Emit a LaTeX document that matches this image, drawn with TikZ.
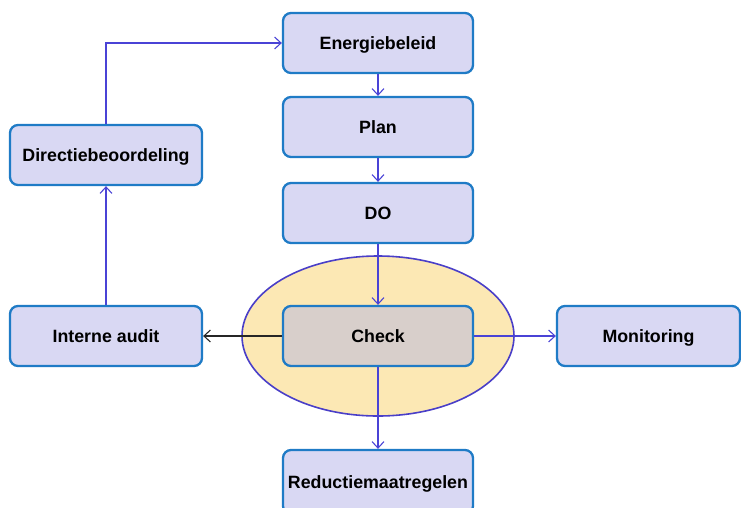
\documentclass[tikz,border=0pt]{standalone}
\usepackage{fontspec}
\setmainfont{Liberation Sans}
\usetikzlibrary{arrows.meta,shapes.geometric}
\definecolor{boxfill}{HTML}{D9D8F3}
\definecolor{boxline}{HTML}{1F7BC6}
\definecolor{checkfill}{HTML}{D8CFCB}
\definecolor{arrowblue}{HTML}{4A43D6}
\definecolor{ellfill}{HTML}{FCE8B4}
\definecolor{ellline}{HTML}{4A3FC8}
\tikzset{
  box/.style={draw=boxline, line width=2.3pt, fill=boxfill, rounded corners=8pt,
    minimum width=190pt, minimum height=60pt, inner sep=0pt,
    text height=12.7pt, text depth=0pt,
    font=\fontsize{17.8}{20}\selectfont\bfseries, text=black},
  conn/.style={draw=arrowblue, line width=1.1pt, -{Straight Barb[length=6.5pt,width=12pt,line width=1.1pt]}},
  connk/.style={draw=black!85, line width=1.1pt, -{Straight Barb[length=6.5pt,width=12pt,line width=1.1pt]}}
}
\begin{document}
\begin{tikzpicture}[x=1pt,y=-1pt]
\useasboundingbox (0,0) rectangle (741,507);
\node[ellipse, draw=ellline, line width=1.6pt, fill=ellfill, minimum width=272pt, minimum height=160pt, inner sep=0pt] (ell) at (378,336) {};
\node[box] (energie) at (378,43) {Energiebeleid};
\node[box] (plan) at (378,127) {Plan};
\node[box] (do) at (378,213) {DO};
\node[box, fill=checkfill] (check) at (378,336) {Check};
\node[box, minimum height=64pt] (red) at (378,482) {Reductiemaatregelen};
\node[box, minimum width=192pt] (dir) at (106,155) {Directiebeoordeling};
\node[box, minimum width=192pt] (audit) at (106,336) {Interne audit};
\node[box, minimum width=183pt] (mon) at (648.5,336) {Monitoring};
\draw[conn] (dir.north) |- (energie.west);
\draw[conn] (energie) -- (plan);
\draw[conn] (plan) -- (do);
\draw[conn] (do) -- (check);
\draw[connk] (check) -- (audit);
\draw[conn] (check) -- (mon);
\draw[conn] (check) -- (red);
\draw[conn] (audit) -- (dir);
\end{tikzpicture}
\end{document}
